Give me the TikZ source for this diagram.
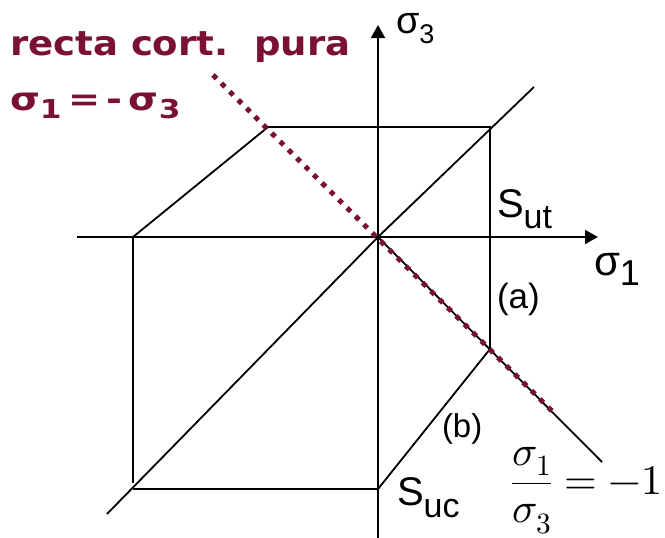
\documentclass[tikz,border=0pt]{standalone}
\usepackage{fontspec}
\usepackage{unicode-math}
\setmainfont{Liberation Sans}
\setmathfont{Latin Modern Math}
\newfontfamily\comicfont{DejaVu Sans}
\usetikzlibrary{arrows.meta}
\definecolor{crimsonred}{RGB}{122,16,52}
\newcommand{\sublbl}[4]{#1\raisebox{-#3}{\fontsize{#4}{#4}\selectfont #2}}
\begin{document}
\begin{tikzpicture}[x=1pt,y=-1pt,
  ln/.style={line width=1.8pt, black},
  axis/.style={ln, -{Triangle[length=13pt,width=14pt]}},
  redline/.style={crimsonred, line width=5pt, dash pattern=on 5pt off 6.8pt},
  lbl/.style={inner sep=0pt, outer sep=0pt, anchor=base west},
  redlbl/.style={lbl, text=crimsonred, font=\comicfont\bfseries}]
\useasboundingbox (0,0) rectangle (665,538);
\clip (0,0) rectangle (665,538);
% coordinates
\coordinate (O) at (378,237);
\coordinate (xl) at (77,237);
\coordinate (xr) at (598,237);
\coordinate (yb) at (378,540);
\coordinate (yt) at (378,25);
\coordinate (TR) at (490,127);
\coordinate (TL) at (268,127);
\coordinate (L) at (133,237);
\coordinate (LB) at (133,483);
\coordinate (BL) at (133,489);
\coordinate (B) at (378,489);
\coordinate (C) at (490,349);
\coordinate (D1) at (107,514);
\coordinate (D2) at (534,87);
\coordinate (N2) at (602,462);
\coordinate (R1) at (213,75);
\coordinate (R2) at (555,414);
% axes
\draw[axis] (xl) -- (xr);
\draw[axis] (yb) -- (yt);
% failure envelope
\draw[ln] (L) -- (TL) -- (TR) -- (C) -- (B) -- (BL);
\draw[ln] (L) -- (LB);
% diagonals
\draw[ln] (D1) -- (O) -- (D2);
\draw[ln] (O) -- (N2);
% pure shear line
\draw[redline] (R1) -- (R2);
% labels
\node[lbl] (s3) at (396,33) {\fontsize{38}{38}\selectfont\sublbl{σ}{3}{10pt}{27}};
\node[lbl] (s1) at (594,275) {\fontsize{42}{42}\selectfont\sublbl{σ}{1}{10pt}{36}};
\node[lbl] (sut) at (497,217) {\fontsize{40}{40}\selectfont\sublbl{S}{ut}{11pt}{34}};
\node[lbl] (suc) at (397,505) {\fontsize{40}{40}\selectfont\sublbl{S}{uc}{12pt}{34}};
\node[lbl] (la) at (497,308) {\fontsize{35}{35}\selectfont (a)};
\node[lbl] (lb) at (442,437) {\fontsize{33}{33}\selectfont (b)};
\node[redlbl] (rt) at (10,56) {\fontsize{34}{34}\selectfont\scalebox{1.09}[1]{recta cort.\ \ pura}};
\node[redlbl] (re) at (10,110) {\fontsize{32}{32}\selectfont\scalebox{1.2}[1]{\sublbl{σ}{1}{8pt}{26}\,=\,-\,\sublbl{σ}{3}{8pt}{26}}};
\node[lbl] (fr) at (511,494) {\fontsize{42}{42}\selectfont$\displaystyle\frac{\sigma_1}{\sigma_3}=-1$};
\end{tikzpicture}
\end{document}
